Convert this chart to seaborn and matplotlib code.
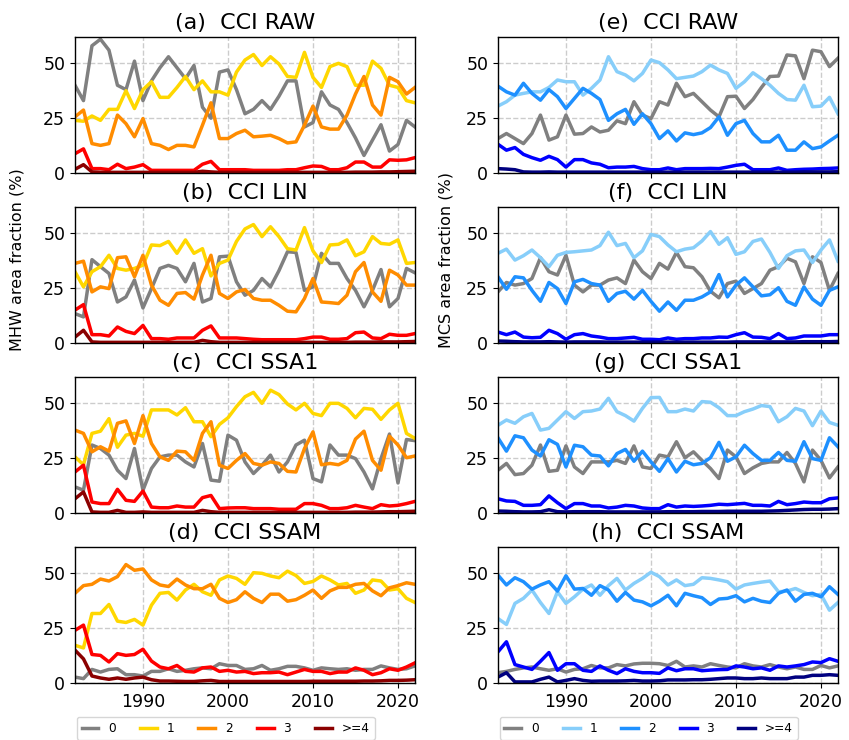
import numpy as np
import pandas as pd
import matplotlib
matplotlib.use("Agg")
import matplotlib.pyplot as plt
from matplotlib.lines import Line2D
import seaborn as sns

plt.rcParams['font.family'] = ['DejaVu Sans']

years = list(range(1982, 2023))
categories = ["0", "1", "2", "3", ">=4"]

mhw_colors = ["#808080", "#FFD700", "#FF8C00", "#FF0000", "#8B0000"]
mcs_colors = ["#808080", "#87CEFA", "#1E90FF", "#0000FF", "#000080"]

# ---------------- MHW, CCI RAW ----------------
mhw_raw_0 = [40,33,58,61,56,40,38,51,33, 42,48,53,48,43,49,30,25,46,47,
             38,27,29,33,29,35,42,42,21,23, 37,31,29,23,16,8,15,22,10,13,24,21]
mhw_raw_1 = [24,23.6,26,24,29,29,37.5,29.4,38, 41.6,34.5,34.5,39,44,38,42,37,37,35.5,
             46,51.5,54,49,53,49.7,44,43.6,55,43.6, 39,48.5,50,48.5,40,40,51,47.7,40,39,33,32]
mhw_raw_2 = [25.6,28.7,13.4,12.6,13.4,26.4,22.5,16.5,24.8, 13.4,12.6,10.7,12.6,12.6,11.9,21.8,32,15.7,15.7,
             18,19.5,16.5,16.8,17.2,15.7,13.7,14.2,21.8,30.5, 21,20,20,26.4,36,44,31,26.4,43.6,41.6,36,39]
mhw_raw_3 = [8.8,11,2,2,1.5,4,2,2.7,3.8, 1.2,1.2,1.2,1.2,1.2,1.2,4,5.3,1.5,1.5,
             1.5,1.5,1.2,1.2,1.2,1.2,1.5,1.5,2.4,3.2, 3,1.5,1.5,2.4,5,5,2.7,2.7,6,5.8,6,7]
mhw_raw_4 = [1.7,3.8,0.5,0.3,0.3,0.3,0.3,0.3,0.3, 0.3,0.3,0.3,0.3,0.3,0.3,0.8,0.5,0.3,0.3,
             0.3,0.3,0.3,0.3,0.3,0.3,0.3,0.3,0.3,0.3, 0.3,0.3,0.3,0.3,0.4,0.4,0.4,0.5,0.5,0.6,0.7,0.8]

# ---------------- MHW, CCI LIN ----------------
mhw_lin_0 = [13.4,11.9,38,34.8,31.7,18.7,21,28.7,16, 24.8,34,35.4,34,27.9,36.3,18.7,20.3,39.3,39.6,
             27.9,21.8,24,29.4,25.6,33,41.6,41.3,24,25.6, 40.9,36.3,36.3,29.4,24,16.5,24,33.5,16.5,20.3,34,32]
mhw_lin_1 = [32.5,25.6,32.5,34.8,40,34,33.2,34,35.5, 44.7,44.4,46.3,40.9,47,40.9,43,30.6,36.3,37.8,
             46.3,52,54,48.5,53,48.5,43,42.4,52.6,42, 36.7,44.7,45,47,39.8,41.6,48.5,45.4,45,47,36.3,36.7]
mhw_lin_2 = [36.3,37.3,23.3,25.6,24.8,38.9,39.3,30.2,40, 26.4,19.5,17.2,22.6,23,20,31,40,22.6,20.3,
             23.3,24.4,20.3,19.5,19.5,17.2,14.5,14.2,20.3,29.4, 18.7,18.4,18,21.8,32.5,36.7,23.3,19,33.2,31,26.4,26.4]
mhw_lin_3 = [15,17.5,3.8,3.8,3.2,7.3,5.3,4.3,8, 2,2,1.7,2.3,2.3,2.3,5.8,7.8,2.3,2.3,
             2.3,2,1.7,1.5,1.5,1.5,1.5,1.5,2,2.7, 2.7,1.7,1.7,2,4.7,5,2.3,2,4,3.5,3.5,4.3]
mhw_lin_4 = [2.7,5.8,0.5,0.3,0.3,0.3,0.3,0.3,0.3, 0.3,0.3,0.3,0.3,0.3,0.3,1.2,0.6,0.3,0.3,
             0.3,0.3,0.3,0.3,0.3,0.3,0.3,0.3,0.3,0.3, 0.3,0.3,0.3,0.3,0.4,0.4,0.4,0.5,0.5,0.5,0.6,0.7]

# ---------------- MHW, CCI SSA1 ----------------
mhw_ssa1_0 = [11.9,10.4,31,29.4,26.4,19.5,15.7,29.4,10.4, 20.3,25.6,26.4,26.4,23.3,21,31.7,15,14.5,35.5,
              33.2,23.3,18,21.8,26.4,18.7,23.3,31,33.2,15.7, 14.2,31,26.4,26.4,24.8,18.7,11,24.8,36,13.7,33.5,33]
mhw_ssa1_1 = [25.6,22,36.3,37.3,43,30,35.5,36.3,35, 47,47,47,44.7,48,41.6,41.6,34.8,40.4,43.4,
              48.5,53,55,50,56,54,49.7,47,50,45.4, 44.4,50,50,47.7,43.4,47.7,47.3,42.7,47,50,36.3,34]
mhw_ssa1_2 = [37.8,36.3,27.9,30.2,28.2,40.9,42,31.7,44.4, 31.7,25.6,24,28.2,27.9,24,36.3,41.6,21.8,20.3,
              24,27.1,22.6,21.8,23.3,22.6,19,18.7,29.4,37, 22,22.6,22,24,33.7,37.3,24,19.5,35,31,25.2,26]
mhw_ssa1_3 = [18.7,21.8,5,4.3,4.3,10.8,5.8,5.3,10, 2.7,2.4,2.4,3.2,2.7,2.7,7,8,2,2.3,
              2.4,2.4,2,2,2,1.7,1.7,1.7,4.3,4.3, 3.5,2,2,2.4,3.5,2.7,2,3.8,3.2,3.5,4.3,5.3]
mhw_ssa1_4 = [6.5,9.6,0.5,0.3,0.3,1.2,0.3,0.3,0.5, 0.3,0.3,0.3,0.3,0.3,0.3,1.2,0.6,0.3,0.3,
              0.3,0.3,0.3,0.3,0.3,0.3,0.3,0.3,0.3,0.3, 0.3,0.3,0.3,0.3,0.4,0.4,0.4,0.5,0.6,0.6,0.7,0.8]

# ---------------- MHW, CCI SSAM ----------------
mhw_ssam_0 = [2.7,2,6.2,5,6.2,6.5,3.8,3.8,3.2, 5.3,5.3,6.5,5.3,5.8,6.5,6.9,6.5,8.8,8,
              8,6.2,6.5,8,5.8,6.5,7.6,7.6,6.9,5.8, 6.9,6.5,6.2,6.5,5.8,6.2,6.2,7.8,6.9,6.2,6.5,7.8]
mhw_ssam_1 = [17.2,16,31.7,31.7,35.8,28.2,27.6,29,26.4, 35.5,40.9,41.3,37.8,42.4,45,41.6,40,47,48.8,
              47.7,45,50.3,50,48.8,48,51,49,45.4,46.3, 48.8,47,44.7,45.4,40.9,42.4,47,46.5,42.4,43,38.6,36.7]
mhw_ssam_2 = [40.9,44.4,45,47.4,46.5,48.5,54,51.4,52, 47,44.7,44,47.4,44.7,43,43,45,38.6,36.7,
              38,41.6,38.6,36.7,40.5,40.5,37.3,38,40,42.4, 38.6,42,43.6,43.6,45,45.4,42,39.8,43.4,44.4,45.7,45]
mhw_ssam_3 = [24,26.4,13,12.6,9.6,13.4,12.6,13,15.4, 10,7.3,6.5,8,5.3,5,6.9,7.3,5.3,5.8,
              5,5.3,4.3,4.7,4.7,5,3.8,5,6.2,5.3, 5.3,4.3,5,5,6.9,5.8,3.8,4.7,6.5,5.8,7.3,9.2]
mhw_ssam_4 = [15,11,3.2,2.3,1.7,2.3,1.7,2.3,2.7, 1.5,0.9,0.9,0.8,0.7,0.7,1,1.2,0.7,0.7,
              0.7,0.7,0.7,0.7,0.7,0.7,0.7,0.7,0.7,0.8, 0.8,0.8,0.8,0.8,0.8,0.9,0.9,1,1.2,1.2,1.3,1.5]

# ---------------- MCS, CCI RAW ----------------
mcs_raw_0 = [15.7,18,15.7,13.4,18,26.4,15,16.5,26.4, 17.7,18,21,18.7,19.5,23.8,22.5,32.5,26.4,24.8,
             32.5,31,40.9,34.8,36.3,32.5,28.7,25.6,34.8,35, 29.4,33.5,39,44,44.2,53.8,53.4,43,56,55.3,48.5,52.3]
mcs_raw_1 = [30.5,32.5,35.5,36.3,37,37,39,42.4,41.6, 41.6,35.5,38.6,42.4,53,46.2,44.7,42,45.4,51.5,
             50.3,47,43,43.6,44.2,46.2,49.2,47,45.4,38.6, 41.6,45.7,43,40,36.3,33.5,33.2,40,30.2,30.5,34.5,27]
mcs_raw_2 = [39.6,37,35.5,40.9,36.3,33.2,38,34.8,29.4, 34,38.6,36.3,33.5,24,27,29,22.2,27,22.5,
             15.7,19.2,14.6,18.3,17.5,18.3,20.7,25.6,17.2,22.5, 24,18,14.2,14.2,17.2,10.4,10.4,14.2,11.1,11.9,14.6,17.2]
mcs_raw_3 = [13.1,10.4,11.6,8.5,7,5.8,7.6,6.1,2.7, 6.1,6.1,4.6,4,2.4,2.7,2.7,3,2,1.5,
             1.5,2.3,1.5,2,2,2,2.1,2,2.7,3.5, 4,1.5,1.5,1.5,2.3,1.2,1.5,1.7,1.8,2,2.1,2.3]
mcs_raw_4 = [2,1.8,1.5,0.5,0.4,0.4,0.5,0.4,0.4, 0.4,0.4,0.4,0.4,0.4,0.4,0.4,0.4,0.4,0.4,
             0.4,0.4,0.4,0.4,0.4,0.4,0.4,0.4,0.4,0.4, 0.4,0.4,0.4,0.4,0.4,0.4,0.4,0.5,0.5,0.5,0.5,0.6]

# ---------------- MCS, CCI LIN ----------------
mcs_lin_0 = [23.3,27.6,26.4,27.1,29.4,38.9,32.5,31,40, 26.4,23.3,26.4,26.4,28.7,29.7,27.1,37.8,32.5,29.4,
             36.3,33.7,41.3,34.8,34.3,30.2,23.6,20.6,27.1,28.2, 22.6,24.8,27.1,33.2,34.8,38.6,37,27.1,39.3,36.7,24,31.7]
mcs_lin_1 = [40.9,42.8,37.8,39.8,42.4,38.9,34.8,40,41.3, 41.6,42,42.4,44.4,50.5,44.4,45.4,38.9,42,49.5,
             48.5,44.7,41.6,42.8,43.4,46.5,50.8,45,48,40.4, 41.6,46.3,47.4,41.3,34,39.8,42,42.4,36.7,42.4,47,37.3]
mcs_lin_2 = [30.2,24.5,30.2,29.7,24,19,27.6,24.8,18, 27.9,29,27.1,26.4,19,22.6,23.6,20,24,19,
             14.5,18.7,14.9,19.5,19.5,21,23.3,31.2,21,26.4, 29.7,25.6,21.5,22,25.2,19,17.2,25.6,20,17.2,24,25.6]
mcs_lin_3 = [5,3.8,5,2.7,2.4,2.6,5.8,4.3,1.7, 3.8,4.3,3.2,2.7,2,2,2.3,2.6,1.7,1.7,
             1.5,2.3,1.7,2,2,2.3,2.3,2.7,2.6,3.8, 4.7,2.7,2.6,2,4.3,2,2.3,3.2,3.2,3.2,3.8,3.8]
mcs_lin_4 = [0.9,0.8,0.6,0.5,0.5,0.5,0.6,0.5,0.4, 0.5,0.5,0.5,0.5,0.4,0.4,0.4,0.4,0.4,0.4,
             0.4,0.4,0.4,0.4,0.4,0.4,0.4,0.4,0.4,0.5, 0.5,0.5,0.5,0.5,0.5,0.5,0.5,0.6,0.6,0.6,0.6,0.7]

# ---------------- MCS, CCI SSA1 ----------------
mcs_ssa1_0 = [19.5,22.6,17.5,18,21.8,31,19,19.5,30.6, 21,18,23.3,23.3,23.3,24,22.6,30.6,21,20.3,
              26.4,25.6,32.5,25.2,27.9,24,20.3,15.7,28.7,25.6, 18,20.6,22.6,23.3,23.3,27.6,22.6,14.2,28.7,24,16,21]
mcs_ssa1_1 = [40,42.4,40.9,43.9,45.4,37.8,38.6,42.4,46.2, 43.1,46.2,46.5,47.4,52.3,46.2,44.4,41.9,47.7,52.6,
              52.7,46.2,46.2,47.4,46.5,50.8,50.5,48,44.4,44.4, 46.2,47.4,49,48.5,41.6,43.9,47.7,46.5,39.8,46.5,41.3,40]
mcs_ssa1_2 = [34.3,28.2,35.2,34.3,28.7,26,33.4,31.3,21, 30.9,30.2,26.4,26,21.5,27.1,29,23.6,28.2,23.3,
              19,24.8,18.7,23.6,22,22.6,25.2,32.2,23.6,25.6, 30.9,27.1,24,24,27.6,24,23.6,32.5,24.8,24,34.3,30.2]
mcs_ssa1_3 = [6.5,5.5,5.3,3.5,3.5,3.8,7.8,4.7,2, 4.3,4.3,3.2,3.2,2.3,2.7,3.5,3.2,2.3,2,
              2,3.8,2.7,3.2,3,3.2,3.5,4,3.8,4.1, 4.4,3.5,3.5,3.2,5.3,3.8,4.3,5,4.7,4.7,6.5,6.9]
mcs_ssa1_4 = [0.9,0.8,0.6,0.5,0.5,0.6,1.5,0.6,0.5, 0.6,0.6,0.6,0.6,0.5,0.5,0.5,0.5,0.5,0.5,
              0.5,0.6,0.6,0.6,0.6,0.7,0.7,0.7,0.8,0.8, 0.8,0.8,0.8,0.9,1,1.2,1.4,1.6,1.7,1.7,1.8,2]

# ---------------- MCS, CCI SSAM ----------------
mcs_ssam_0 = [4.7,5.3,6.2,6.9,7.3,6.5,5.8,6.5,5, 6.2,6.5,8,6.9,6.9,8.4,7.8,8.7,9,9,
              8.8,8,9.9,7.3,7.8,7.3,8.8,8,7.3,6.9, 8.8,7.8,7.3,8.4,7.3,6.5,7.3,6.2,6.2,8,6.9,7.8]
mcs_ssam_1 = [29.4,26.7,36.3,38.6,42.4,36.7,31.7,41.6,36.3, 39.3,42.8,44.7,40,44.4,47.7,42.4,45.4,47.7,50.5,
              48.5,44.7,47,44.4,45,48,47.7,47,46.2,42.8, 44.7,45.4,46,46.5,41.6,41.9,43.1,41.3,39.8,40.4,33.2,36.7]
mcs_ssam_2 = [49.2,44.7,48,46.2,42.8,44.7,46.2,41.9,48.9, 42.8,43.1,40,44.4,42.4,37.3,41.3,37.8,37,35.2,
              37.3,40,35.2,40.9,39.8,38.9,35.8,38.3,38.6,39.8, 37,38.6,37.3,36.7,40.9,42.4,37.3,40.4,40.9,39.3,43.9,40.4]
mcs_ssam_3 = [14.2,18.8,8.4,7.3,6.2,9.9,13.9,5.8,8.8, 8.8,5.8,5.3,7.8,5.8,4.3,6.5,5.3,4.7,4.7,
              4.4,6.9,5.6,6.5,6.5,5.6,5.9,6.1,6.2,7.8, 7.3,6.5,6.9,5.8,7.8,7.3,7.8,8.4,9.6,9.3,11.1,9.9]
mcs_ssam_4 = [2.7,4.7,0.5,0.5,0.5,1.7,2.7,0.5,1.2, 2,1.2,0.8,0.9,0.9,0.9,1,1.2,0.9,0.9,
              1,1.4,1.4,1.4,1.5,1.5,1.7,2,2.3,2.3, 2,2,2.3,2,2,2,2.7,2.7,3.5,3.5,3.8,3.5]

mhw_panels = [
    ("(a)  CCI RAW", [mhw_raw_0, mhw_raw_1, mhw_raw_2, mhw_raw_3, mhw_raw_4]),
    ("(b)  CCI LIN", [mhw_lin_0, mhw_lin_1, mhw_lin_2, mhw_lin_3, mhw_lin_4]),
    ("(c)  CCI SSA1", [mhw_ssa1_0, mhw_ssa1_1, mhw_ssa1_2, mhw_ssa1_3, mhw_ssa1_4]),
    ("(d)  CCI SSAM", [mhw_ssam_0, mhw_ssam_1, mhw_ssam_2, mhw_ssam_3, mhw_ssam_4]),
]
mcs_panels = [
    ("(e)  CCI RAW", [mcs_raw_0, mcs_raw_1, mcs_raw_2, mcs_raw_3, mcs_raw_4]),
    ("(f)  CCI LIN", [mcs_lin_0, mcs_lin_1, mcs_lin_2, mcs_lin_3, mcs_lin_4]),
    ("(g)  CCI SSA1", [mcs_ssa1_0, mcs_ssa1_1, mcs_ssa1_2, mcs_ssa1_3, mcs_ssa1_4]),
    ("(h)  CCI SSAM", [mcs_ssam_0, mcs_ssam_1, mcs_ssam_2, mcs_ssam_3, mcs_ssam_4]),
]


def to_long(series):
    frames = []
    for cat, vals in zip(categories, series):
        frames.append(pd.DataFrame({"year": years, "fraction": vals, "category": cat}))
    return pd.concat(frames, ignore_index=True)


fig, axes = plt.subplots(4, 2, figsize=(8.49, 7.40), dpi=100, sharex=True)
fig.subplots_adjust(left=0.0883, right=0.987, top=0.95, bottom=0.077,
                    wspace=0.244, hspace=0.25)

for col, (panels, colors) in enumerate([(mhw_panels, mhw_colors), (mcs_panels, mcs_colors)]):
    for row, (title, series) in enumerate(panels):
        ax = axes[row, col]
        df = to_long(series)
        sns.lineplot(data=df, x="year", y="fraction", hue="category",
                     hue_order=categories, palette=colors, linewidth=2.5,
                     estimator=None, errorbar=None, legend=False, ax=ax)
        ax.set_xlim(1982, 2022)
        ax.set_ylim(0, 62)
        ax.set_xticks([1990, 2000, 2010, 2020])
        ax.set_yticks([0, 25, 50])
        ax.grid(True, linestyle="--", color="#cccccc", linewidth=1.0)
        ax.set_axisbelow(True)
        ax.set_title(title, fontsize=16)
        ax.set_xlabel("")
        ax.set_ylabel("")
        ax.tick_params(labelsize=12.5)
        for sp in ax.spines.values():
            sp.set_color("black")
            sp.set_linewidth(1.0)

    handles = [Line2D([0], [0], color=c, lw=2.5) for c in colors]
    axes[3, col].legend(handles, categories, ncol=5, loc="upper left",
                        bbox_to_anchor=(0.005, -0.25), borderaxespad=0,
                        fontsize=8.7, handlelength=1.4, handletextpad=0.8,
                        columnspacing=2.0, frameon=True)

fig.text(0.02, 0.649, "MHW area fraction (%)", rotation=90, fontsize=11.5,
         ha="center", va="center")
fig.text(0.525, 0.649, "MCS area fraction (%)", rotation=90, fontsize=11.5,
         ha="center", va="center")

fig.savefig("out.png", dpi=100)
